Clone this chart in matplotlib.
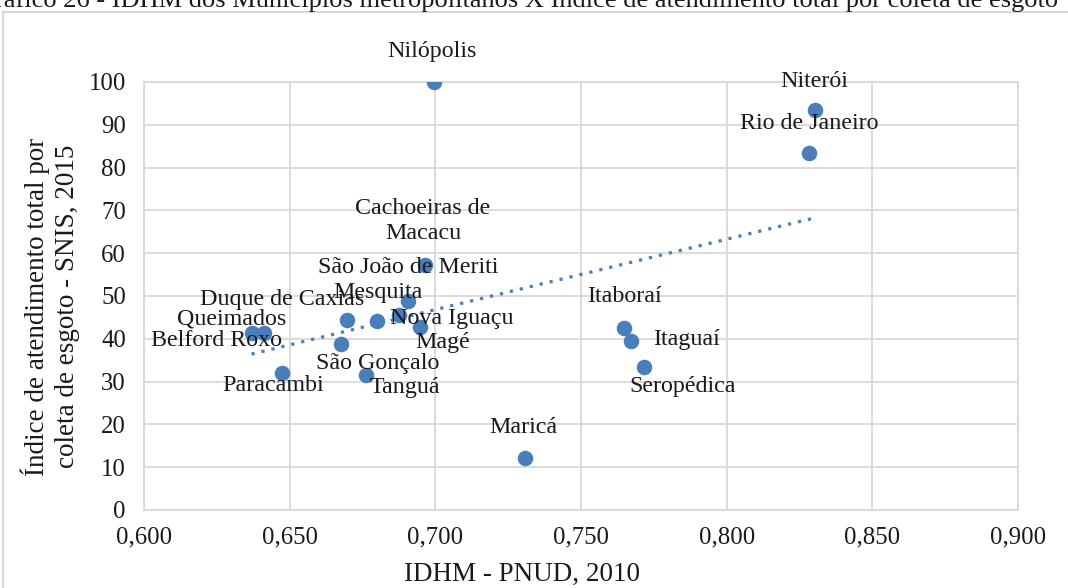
import matplotlib.pyplot as plt
import matplotlib.patches as patches
import numpy as np
from matplotlib.ticker import FuncFormatter, MultipleLocator

# data
municipios = ["Nilópolis", "Niterói", "Rio de Janeiro", "Maricá", "Itaboraí",
              "Itaguaí", "Seropédica", "Cachoeiras de\nMacacu", "São João de Meriti",
              "Mesquita", "Duque de Caxias", "Queimados", "Belford Roxo",
              "Nova Iguaçu", "Magé", "São Gonçalo", "Tanguá", "Paracambi"]
idhm = [0.6995, 0.8303, 0.8282, 0.7307, 0.7648,
        0.7671, 0.7715, 0.6964, 0.6907,
        0.6801, 0.6697, 0.6411, 0.6369,
        0.6876, 0.6947, 0.6676, 0.6761, 0.6475]
esgoto = [100.0, 93.4, 83.4, 12.1, 42.6,
          39.5, 33.5, 57.2, 48.9,
          44.1, 44.5, 41.3, 41.3,
          45.5, 42.7, 38.9, 31.5, 31.9]

# label offsets in pixels (dx, dy) relative to each point
label_offsets = [(-2, 31), (-1, 29), (0, 30), (-1, 31), (0, 31),
                 (56, 1), (39, -20), (-2, 44), (0, 33),
                 (1, 29), (-65, 20), (-32, 14), (-35, -7),
                 (53, -3), (23, -15), (37, -20), (39, -12), (-9, -12)]

plt.rcParams['font.family'] = ['Liberation Serif', 'DejaVu Serif']
blue = '#4a7ebb'
grid = '#d9d9d9'
ink = '#1a1a1a'

fig = plt.figure(figsize=(10.68, 5.88), dpi=100)
ax = fig.add_axes([144 / 1068, 1 - 510 / 588, 874 / 1068, 428 / 588])

ax.scatter(idhm, esgoto, s=125, color=blue, zorder=3, linewidths=0)

# linear trendline over data range
x = np.array(idhm)
y = np.array(esgoto)
coef = np.polyfit(x, y, 1)
xs = np.array([x.min(), x.max()])
ax.plot(xs, np.polyval(coef, xs), color=blue, linestyle=(0, (1, 2.2)),
        linewidth=2.3, zorder=2)

for name, xi, yi, (dx, dy) in zip(municipios, idhm, esgoto, label_offsets):
    ax.annotate(name, (xi, yi), xytext=(dx, dy), textcoords='offset pixels',
                ha='center', va='center', fontsize=17.3, color=ink,
                linespacing=1.25, zorder=4)

ax.set_xlim(0.6, 0.9)
ax.set_ylim(0, 100)
ax.xaxis.set_major_locator(MultipleLocator(0.05))
ax.yaxis.set_major_locator(MultipleLocator(10))
ax.xaxis.set_major_formatter(FuncFormatter(lambda v, p: f"{v:.3f}".replace('.', ',')))
ax.tick_params(length=0, labelsize=17.8, colors=ink)
ax.tick_params(axis='x', pad=12)
ax.tick_params(axis='y', pad=13)
ax.grid(True, color=grid, linewidth=1.3, zorder=0)
ax.set_axisbelow(True)
for sp in ax.spines.values():
    sp.set_color(grid)
    sp.set_linewidth(1.3)

ax.set_xlabel("IDHM - PNUD, 2010", fontsize=19.5, color=ink)
ax.xaxis.set_label_coords((522 - 144) / 874, (510 - 562) / 428)
ax.set_ylabel("Índice de atendimento total por\ncoleta de esgoto - SNIS, 2015",
              fontsize=19.5, color=ink, linespacing=1.25)
ax.yaxis.set_label_coords((80 - 144) / 874, 0.475)

# chart border and clipped caption
fig.patches.append(patches.Rectangle((3 / 1068, -0.1), 1.2, 1 - 12 / 588 + 0.1,
                                     transform=fig.transFigure, fill=False,
                                     edgecolor=grid, linewidth=1.5))
fig.text(1058 / 1068, 1 - 7 / 588,
         "Gráfico 26 - IDHM dos Municípios metropolitanos X Índice de atendimento total por coleta de esgoto",
         ha='right', va='baseline', fontsize=19, color=ink)

fig.savefig('out.png', dpi=100)
